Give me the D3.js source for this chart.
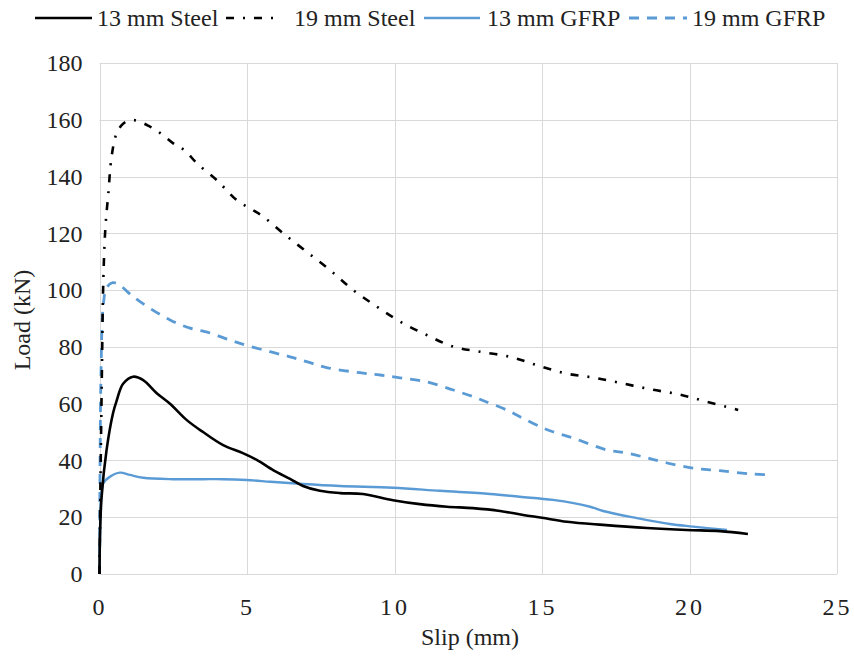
<!DOCTYPE html>
<html>
<head>
<meta charset="utf-8">
<script src="https://cdn.jsdelivr.net/npm/d3@7"></script>
</head>
<body style="margin:0">
<svg id="chart" width="854" height="657"></svg>
<script>
// Load-slip curves for pull-out specimens
const steel13Slip = [0, 0.02, 0.07, 0.24, 0.46, 0.58, 0.8, 1.14, 1.48, 1.94, 2.39, 2.96, 3.51, 4.19, 4.86, 5.33, 5.9, 6.46, 6.9, 7.47, 8.15, 8.93, 9.95, 10.86, 11.78, 12.66, 13.58, 14.36, 15.0, 15.85, 17.07, 18.56, 19.9, 21.03, 21.98];
const steel13Load = [0, 15, 27, 43.7, 56.7, 61, 67, 69.5, 68.3, 63.7, 60, 54.2, 50, 45.4, 42.6, 40.2, 36.5, 33.5, 31, 29.3, 28.5, 28.2, 26, 24.6, 23.7, 23.2, 22.2, 20.8, 19.8, 18.4, 17.3, 16.2, 15.5, 15.1, 14.1];

const steel19Slip = [0, 0.03, 0.08, 0.13, 0.2, 0.3, 0.41, 0.58, 0.81, 1.15, 1.71, 2.1, 2.5, 2.9, 3.3, 3.97, 4.65, 5.1, 5.55, 6.23, 7.02, 7.81, 8.6, 9.4, 10.19, 11.09, 11.99, 12.9, 13.92, 14.82, 15.78, 16.74, 17.7, 18.66, 19.62, 20.58, 21.65];
const steel19Load = [0, 30, 70, 103.5, 122, 134.2, 147, 155.2, 158.7, 159.9, 157.6, 155, 151.7, 149.1, 144.7, 138.8, 131.7, 128.8, 125.9, 120, 113.5, 107.1, 100, 94.2, 88.9, 84.2, 80.1, 78.3, 76.5, 73.6, 70.7, 69.2, 67.2, 65.1, 63.3, 60.7, 57.8];

const gfrp13Slip = [0, 0.02, 0.04, 0.13, 0.36, 0.69, 1.03, 1.48, 2.49, 3.5, 4.19, 4.99, 5.8, 6.9, 8.15, 9.95, 11.54, 13.24, 14.25, 15.37, 16.63, 17.07, 18.22, 19.34, 20.12, 21.27];
const gfrp13Load = [0, 15, 25, 32, 34.3, 35.7, 34.9, 33.9, 33.4, 33.4, 33.4, 33.1, 32.5, 31.7, 31, 30.4, 29.3, 28.2, 27.2, 26.1, 23.7, 22.2, 19.7, 17.6, 16.7, 15.5];

const gfrp19Slip = [0, 0.02, 0.05, 0.13, 0.25, 0.45, 0.65, 1.14, 1.71, 2.39, 3.07, 3.75, 4.42, 5.0, 5.78, 6.46, 7.02, 7.7, 8.83, 9.51, 10.19, 11.09, 11.99, 12.66, 13.1, 13.8, 14.25, 14.93, 15.37, 16.05, 17.2, 17.88, 18.56, 19.24, 20.12, 21.03, 22.15, 22.8];
const gfrp19Load = [0, 40, 70, 95, 101, 102.6, 102, 97.7, 93.6, 89.5, 86.6, 84.9, 82.4, 80.5, 78.3, 76.5, 74.8, 72.7, 70.9, 70.1, 69.1, 67.7, 64.8, 62.5, 60.7, 57.8, 55.4, 51.9, 50.1, 47.9, 43.7, 42.6, 40.9, 39.1, 37.3, 36.4, 35.2, 34.9];

const seriesNames = ["13 mm Steel", "19 mm Steel", "13 mm GFRP", "19 mm GFRP"];
const xTicks = [0, 5, 10, 15, 20, 25];
const yTicks = [0, 20, 40, 60, 80, 100, 120, 140, 160, 180];

const FONT = "Liberation Serif";
const svg = d3.select("#chart");
const plotLeft = 99.5, plotRight = 837, plotTop = 63, plotBottom = 574;

const x = d3.scaleLinear().domain([0, 25]).range([plotLeft, plotRight]);
const y = d3.scaleLinear().domain([0, 180]).range([plotBottom, plotTop]);

// gridlines
const grid = svg.append("g").attr("stroke", "#d9d9d9").attr("stroke-width", 1);
grid.selectAll("line.h").data(yTicks).join("line")
  .attr("x1", plotLeft).attr("x2", plotRight)
  .attr("y1", d => Math.round(y(d)) + 0.5).attr("y2", d => Math.round(y(d)) + 0.5);
grid.selectAll("line.v").data(xTicks).join("line")
  .attr("y1", plotTop).attr("y2", plotBottom)
  .attr("x1", d => Math.round(x(d)) + 0.5).attr("x2", d => Math.round(x(d)) + 0.5);

// axes: labels only
const xAxis = svg.append("g").attr("transform", `translate(0,${plotBottom})`)
  .call(d3.axisBottom(x).tickValues(xTicks).tickSize(0).tickPadding(24).tickFormat(d3.format("d")));
xAxis.select(".domain").remove();
xAxis.selectAll("text").attr("font-family", FONT).attr("font-size", 24).attr("fill", "#222").attr("letter-spacing", 3);

const yAxis = svg.append("g").attr("transform", `translate(${plotLeft},0)`)
  .call(d3.axisLeft(y).tickValues(yTicks).tickSize(0).tickPadding(17).tickFormat(d3.format("d")));
yAxis.select(".domain").remove();
yAxis.selectAll("text").attr("font-family", FONT).attr("font-size", 24).attr("fill", "#222");

// axis titles
svg.append("text").attr("x", 470).attr("y", 645).attr("text-anchor", "middle")
  .attr("font-family", FONT).attr("font-size", 24).attr("fill", "#222").text("Slip (mm)");
svg.append("text").attr("transform", "translate(30,320) rotate(-90)").attr("text-anchor", "middle")
  .attr("font-family", FONT).attr("font-size", 24).attr("fill", "#222").text("Load (kN)");

const styles = [
  { color: "#000", width: 2.6, dash: null },
  { color: "#000", width: 2.6, dash: "8,9,2,9" },
  { color: "#5b9bd5", width: 2.4, dash: null },
  { color: "#5b9bd5", width: 2.8, dash: "10,8" }
];
const series = [
  d3.zip(steel13Slip, steel13Load),
  d3.zip(steel19Slip, steel19Load),
  d3.zip(gfrp13Slip, gfrp13Load),
  d3.zip(gfrp19Slip, gfrp19Load)
];

const lineGen = d3.line().x(d => x(d[0])).y(d => y(d[1])).curve(d3.curveCatmullRom.alpha(0.5));

// GFRP curves underneath, steel on top
[3, 2, 1, 0].forEach(i => {
  svg.append("path").datum(series[i])
    .attr("fill", "none")
    .attr("stroke", styles[i].color)
    .attr("stroke-width", styles[i].width)
    .attr("stroke-dasharray", styles[i].dash)
    .attr("stroke-linejoin", "round")
    .attr("d", lineGen);
});

// legend
const legendItems = [
  { x1: 35, x2: 92, tx: 97 },
  { x1: 226, x2: 278, tx: 294 },
  { x1: 424, x2: 480, tx: 487 },
  { x1: 629, x2: 687, tx: 692 }
];
const legend = svg.append("g");
legendItems.forEach((it, i) => {
  legend.append("line").attr("x1", it.x1).attr("x2", it.x2).attr("y1", 18).attr("y2", 18)
    .attr("stroke", styles[i].color).attr("stroke-width", styles[i].width)
    .attr("stroke-dasharray", styles[i].dash);
  legend.append("text").attr("x", it.tx).attr("y", 26)
    .attr("font-family", FONT).attr("font-size", 24)
    .attr("fill", "#222").text(seriesNames[i]);
});
</script>
</body>
</html>
